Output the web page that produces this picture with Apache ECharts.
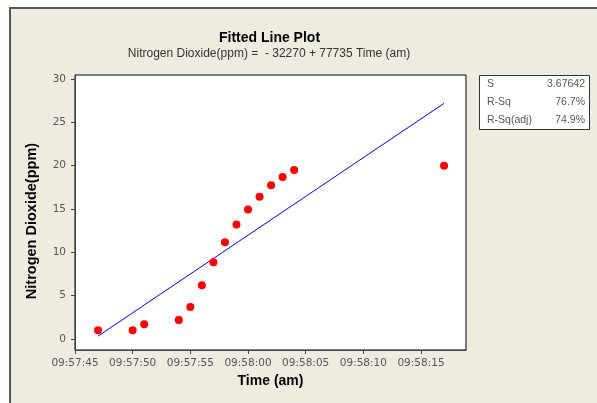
<!DOCTYPE html>
<html>
<head>
<meta charset="utf-8">
<script src="https://cdn.jsdelivr.net/npm/echarts@6/dist/echarts.min.js"></script>
<style>html,body{margin:0;padding:0;background:#fff;}#c{width:597px;height:403px;}</style>
</head>
<body>
<div id="c"></div>
<script>
// ---- data ----
var times = ["09:57:47","09:57:50","09:57:51","09:57:54","09:57:55","09:57:56","09:57:57","09:57:58","09:57:59","09:58:00","09:58:01","09:58:02","09:58:03","09:58:04","09:58:17"];
var no2 = [1.0, 1.0, 1.7, 2.2, 3.7, 6.2, 8.85, 11.15, 13.2, 14.95, 16.4, 17.75, 18.7, 19.5, 20.0];
var xTickLabels = ["09:57:45","09:57:50","09:57:55","09:58:00","09:58:05","09:58:10","09:58:15"];
var yTickValues = [0, 5, 10, 15, 20, 25, 30];
var statNames = ["S", "R-Sq", "R-Sq(adj)"];
var statValues = ["3.67642", "76.7%", "74.9%"];
var titleText = "Fitted Line Plot";
var subtitleText = "Nitrogen Dioxide(ppm) =  - 32270 + 77735 Time (am)";

function toSec(s){var p=s.split(":");return (+p[0])*3600+(+p[1])*60+(+p[2]);}
function pad(n){return (n<10?"0":"")+n;}
function fmt(v){v=Math.round(v);return pad(Math.floor(v/3600))+":"+pad(Math.floor(v/60)%60)+":"+pad(v%60);}

var xs = times.map(toSec);
var pts = xs.map(function(x,i){return [x, no2[i]];});
// least-squares fitted line
var n = xs.length, mx = 0, my = 0;
for (var i=0;i<n;i++){mx+=xs[i];my+=no2[i];}
mx/=n; my/=n;
var sxy=0, sxx=0;
for (i=0;i<n;i++){sxy+=(xs[i]-mx)*(no2[i]-my);sxx+=(xs[i]-mx)*(xs[i]-mx);}
var b = sxy/sxx, a = my - b*mx;
var x0 = Math.min.apply(null, xs), x1 = Math.max.apply(null, xs);
var fit = [[x0, a+b*x0],[x1, a+b*x1]];

var xTickVals = xTickLabels.map(toSec);
var xMin = xTickVals[0], xMax = xMin + 33.9;
var yMin = -1.27, yMax = 30.46;

var chart = echarts.init(document.getElementById('c'), null, {renderer:'canvas'});
var lab = {fontFamily:'DejaVu Sans', fontSize:10.5, color:'#555'};
var graphics = [
  {type:'rect', z:-10, shape:{x:10,y:8,width:620,height:420}, style:{fill:'#eeebe1', stroke:'#5a5a5a', lineWidth:2}},
  {type:'text', x:269.5, y:38.5, style:{text:titleText, fontFamily:'Liberation Sans', fontWeight:'bold', fontSize:14, fill:'#000', align:'center', verticalAlign:'middle'}},
  {type:'text', x:269, y:54, style:{text:subtitleText, fontFamily:'Liberation Sans', fontSize:12, fill:'#333', align:'center', verticalAlign:'middle'}},
  {type:'text', x:32, y:221, rotation:Math.PI/2, style:{text:'Nitrogen Dioxide(ppm)', fontFamily:'Liberation Sans', fontWeight:'bold', fontSize:14.5, fill:'#000', align:'center', verticalAlign:'middle'}},
  {type:'rect', shape:{x:479.5,y:75.5,width:110,height:54}, style:{fill:'#fff', stroke:'#333', lineWidth:1}}
];
for (i=0;i<statNames.length;i++){
  graphics.push({type:'text', x:487, y:84.5+18*i, style:{text:statNames[i], fontFamily:'Liberation Sans', fontSize:10.5, fill:'#555', align:'left', verticalAlign:'middle'}});
  graphics.push({type:'text', x:585, y:84.5+18*i, style:{text:statValues[i], fontFamily:'Liberation Sans', fontSize:10.5, fill:'#555', align:'right', verticalAlign:'middle'}});
}

chart.setOption({
  backgroundColor:'#fff',
  animation:false,
  graphic: graphics,
  grid:{left:75, top:75, width:391, height:275, show:true, backgroundColor:'#fff', borderColor:'#000', borderWidth:1, containLabel:false},
  xAxis:{
    type:'value', min:xMin, max:xMax,
    name:'Time (am)', nameLocation:'middle', nameGap:23,
    nameTextStyle:{fontFamily:'Liberation Sans', fontWeight:'bold', fontSize:14, color:'#000'},
    axisLine:{show:true, onZero:false, lineStyle:{color:'#444', width:1}},
    axisTick:{show:true, length:4, customValues:xTickVals, lineStyle:{color:'#444'}},
    axisLabel:Object.assign({margin:8, customValues:xTickVals, formatter:function(v){return fmt(v);}}, lab),
    splitLine:{show:false}
  },
  yAxis:{
    type:'value', min:yMin, max:yMax,
    axisLine:{show:true, onZero:false, lineStyle:{color:'#444', width:1}},
    axisTick:{show:true, length:4, customValues:yTickValues, lineStyle:{color:'#444'}},
    axisLabel:Object.assign({margin:9, customValues:yTickValues}, lab),
    splitLine:{show:false}
  },
  series:[
    {type:'line', data:fit, symbol:'none', lineStyle:{color:'#0000ff', width:1}, silent:true, z:2},
    {type:'scatter', data:pts, symbol:'circle', symbolSize:8, itemStyle:{color:'#ff0000', opacity:1}, z:3}
  ]
});
</script>
</body>
</html>
